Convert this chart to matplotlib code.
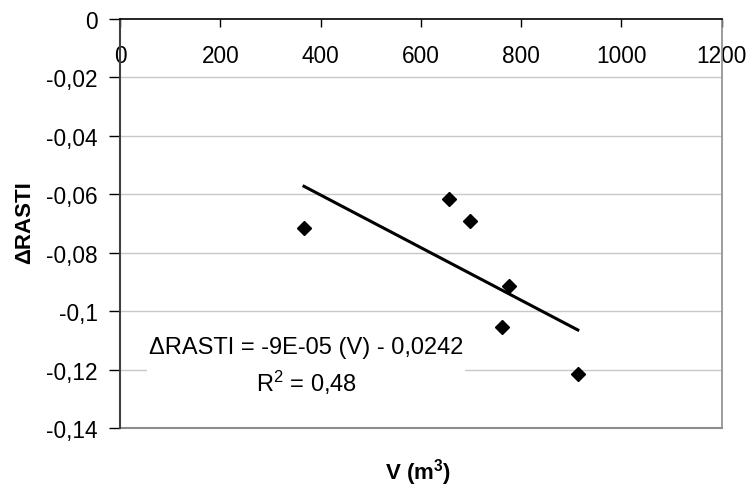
import numpy as np
import matplotlib
matplotlib.use("Agg")
import matplotlib.pyplot as plt
from matplotlib.ticker import FuncFormatter

plt.rcParams['font.family'] = ['Liberation Sans', 'DejaVu Sans']
plt.rcParams['mathtext.fontset'] = 'custom'
plt.rcParams['mathtext.rm'] = 'Liberation Sans'
plt.rcParams['mathtext.it'] = 'Liberation Sans:italic'
plt.rcParams['mathtext.bf'] = 'Liberation Sans:bold'

# Room volume (m3) and measured change in RASTI
volume = [367, 656, 698, 776, 761, 913]
delta_rasti = [-0.0716, -0.0616, -0.0690, -0.0914, -0.1055, -0.1214]

# Linear trend as printed on the chart
slope = -9e-05
intercept = -0.0242
r_squared = 0.48

x_ticks = [0, 200, 400, 600, 800, 1000, 1200]
y_ticks = [0, -0.02, -0.04, -0.06, -0.08, -0.1, -0.12, -0.14]

fig = plt.figure(figsize=(7.5, 4.89), dpi=100)
ax = fig.add_axes([0.16, 0.1221, 0.8023, 0.8370])

ax.set_xlim(0, 1200)
ax.set_ylim(-0.14, 0)

# horizontal gridlines
for yv in y_ticks[1:-1]:
    ax.axhline(yv, color='#c8c8c8', lw=1.0, zorder=0)

# x axis runs along y = 0 at the top of the plot area
ax.spines['bottom'].set_position(('data', 0))
ax.spines['bottom'].set_color('black')
ax.spines['bottom'].set_linewidth(1.2)
ax.spines['top'].set_visible(False)
ax.spines['left'].set_color('#404040')
ax.spines['left'].set_linewidth(1.5)
ax.spines['right'].set_color('#8c8c8c')
ax.spines['right'].set_linewidth(1.2)
# bottom border of the plot area
ax.axhline(-0.14, color='#8c8c8c', lw=1.5, zorder=1, clip_on=False)

ax.set_xticks(x_ticks)
ax.set_yticks(y_ticks)
ax.tick_params(axis='x', direction='out', length=6, width=1, pad=12,
               labelsize=16.3, colors='black')
ax.tick_params(axis='y', direction='out', length=8, width=1, pad=8,
               labelsize=16.3, colors='black')

comma = lambda v, pos: ('%g' % v).replace('.', ',')
ax.yaxis.set_major_formatter(FuncFormatter(comma))
ax.xaxis.set_major_formatter(FuncFormatter(lambda v, pos: '%d' % v))

# data points
ax.plot(volume, delta_rasti, linestyle='none', marker='D', markersize=7.5,
        color='black', zorder=4, clip_on=False)

# trend line over the data range
xs = np.array([min(volume), max(volume)])
ax.plot(xs, slope * xs + intercept, color='black', lw=2.2, zorder=3)

eq_text = ('\u0394RASTI = -9E-05 (V) - 0,0242\nR$^2$ = '
           + ('%g' % r_squared).replace('.', ','))
ax.text(371, -0.1187, eq_text, ha='center', va='center', fontsize=17,
        linespacing=1.4, multialignment='center',
        bbox=dict(facecolor='white', edgecolor='none', pad=1), zorder=2)

fig.text(0.033, 0.544, '\u0394RASTI', rotation=90, ha='center', va='center',
         fontsize=16, fontweight='bold')
fig.text(0.557, 0.033, r'V (m$^{\mathbf{3}}$)', ha='center', va='center',
         fontsize=16, fontweight='bold')

fig.savefig('out.png', dpi=100)
